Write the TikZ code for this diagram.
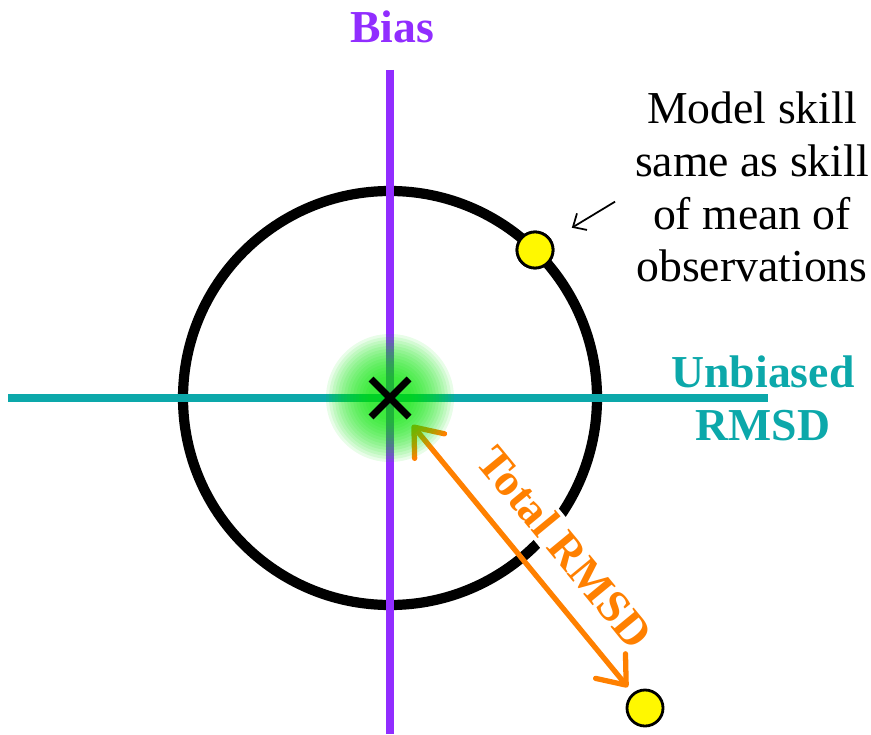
\documentclass[tikz,border=0pt]{standalone}
\usepackage{fontspec}
\setmainfont{Liberation Serif}
\usetikzlibrary{arrows.meta}
\definecolor{biasc}{RGB}{145,45,255}
\definecolor{rmsdc}{RGB}{12,168,170}
\definecolor{totalc}{RGB}{255,128,0}
\definecolor{dotc}{RGB}{255,248,0}
\definecolor{glowc}{RGB}{0,228,0}
\tikzset{
  obsdot/.style={circle,draw=black,line width=0.8pt,fill=dotc,minimum size=0.36cm,inner sep=0pt},
  axislabel/.style={font=\fontsize{13}{15}\selectfont\bfseries,align=center},
  rmsdtip/.tip={Straight Barb[length=7pt,width=11pt,round]}
}
\begin{document}
\begin{tikzpicture}[x=0.01cm,y=-0.01cm,every node/.style={font=\fontsize{13}{15}\selectfont}]
\useasboundingbox (0,0) rectangle (871,734);
\coordinate (c) at (390,398);
% skill circle
\draw[line width=2.9pt] (c) circle (207);
% axes
\draw[rmsdc,line width=2pt] (8,398) coordinate (rl) -- (768,398) coordinate (rr);
\draw[biasc,line width=2pt] (390,70) coordinate (bt) -- (390,734) coordinate (bb);
\node[axislabel,text=biasc] (bias) at (392,27) {Bias};
\node[axislabel,text=rmsdc] (unb) at (763,398) {Unbiased\\RMSD};
% dots
\node[obsdot] (dotA) at (535,250) {};
\node[obsdot] (dotB) at (645,708) {};
% total rmsd
\node[axislabel,text=totalc,fill=white,inner sep=1pt,rotate=-50.5] (tot) at (565,547) {Total RMSD};
\draw[totalc,line width=1.5pt,rmsdtip-rmsdtip,shorten <=0.35cm,shorten >=0.27cm] (c) -- (dotB.center);
% glow and cross
\foreach \r in {64,61,...,22}
  \fill[glowc,opacity=0.09] (c) circle (\r);
\draw[line width=2pt] ([shift={(-19,-19)}]c) -- ([shift={(19,19)}]c);
\draw[line width=2pt] ([shift={(-19,19)}]c) -- ([shift={(19,-19)}]c);
\node[obsdot] at (dotA) {};
% note
\node[align=center] (skill) at (752,187) {Model skill\\same as skill\\of mean of\\observations};
\draw[line width=0.5pt,-{Straight Barb[length=3pt,width=5.5pt]},shorten <=0.09cm,shorten >=0.43cm] ([shift={(0,10)}]skill.west) -- (dotA.center);
\end{tikzpicture}
\end{document}
